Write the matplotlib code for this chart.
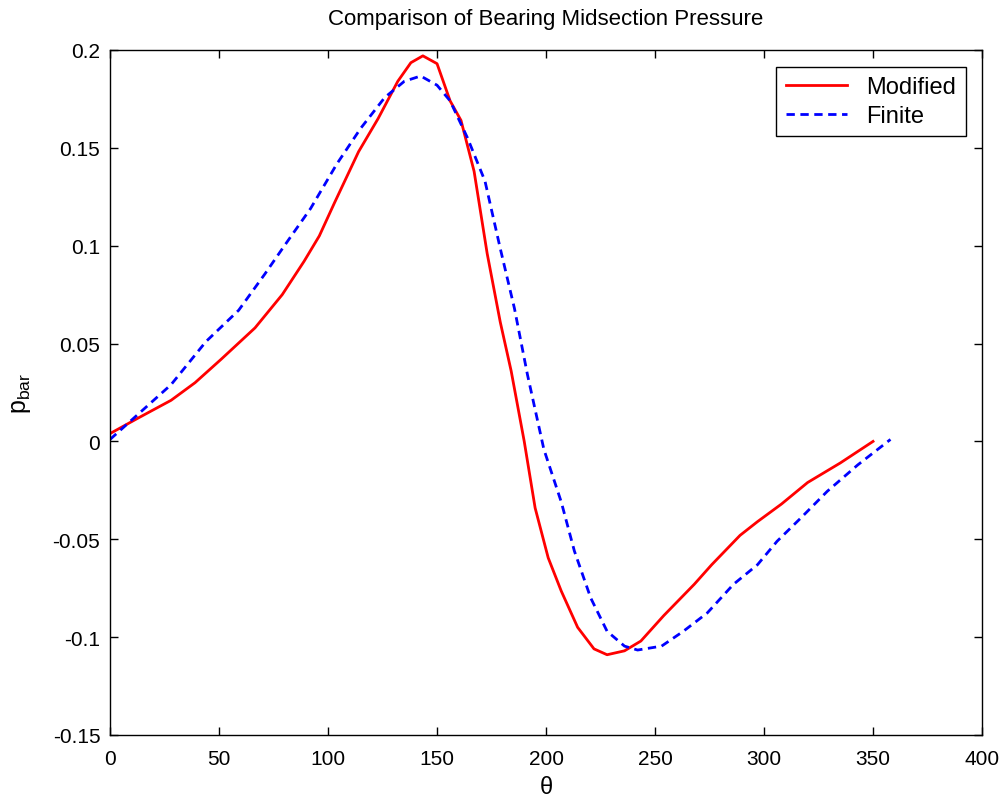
import matplotlib
matplotlib.use('Agg')
import matplotlib.pyplot as plt

plt.rcParams['font.family'] = ['Liberation Sans', 'DejaVu Sans']

# Modified solution (red, solid)
theta_mod = [0, 13, 28, 39, 51, 66.5, 79, 89, 96, 103, 114, 123, 132, 138, 143.5,
             150, 156, 161, 167, 173, 179, 184, 190, 195, 201, 207, 214.5, 222,
             228, 236, 243.5, 254, 268, 276, 289, 297, 308, 320, 335, 350]
p_mod = [0.004, 0.012, 0.021, 0.030, 0.042, 0.058, 0.075, 0.092, 0.105, 0.122,
         0.148, 0.165, 0.184, 0.1935, 0.197, 0.193, 0.174, 0.164, 0.138, 0.096,
         0.061, 0.036, 0.000, -0.034, -0.0595, -0.0765, -0.095, -0.106, -0.109,
         -0.107, -0.102, -0.089, -0.073, -0.063, -0.048, -0.041, -0.032, -0.021,
         -0.011, 0.000]

# Finite solution (blue, dashed)
theta_fin = [0, 13, 28, 44, 59, 71, 80, 92, 104, 115, 126, 135, 142.5, 150, 156,
             164, 172, 179, 185.5, 191.5, 199, 207, 213, 220.5, 228, 236, 242,
             253, 263, 274, 286, 297, 306, 317, 329, 343, 358]
p_fin = [0.001, 0.014, 0.029, 0.051, 0.067, 0.0855, 0.100, 0.119, 0.1417, 0.160,
         0.1757, 0.184, 0.1867, 0.182, 0.174, 0.155, 0.133, 0.0986, 0.068, 0.034,
         -0.004, -0.031, -0.056, -0.080, -0.097, -0.1046, -0.1066, -0.1046,
         -0.097, -0.0876, -0.073, -0.063, -0.051, -0.039, -0.0255, -0.012, 0.001]

xticks = [0, 50, 100, 150, 200, 250, 300, 350, 400]
yticks = [-0.15, -0.1, -0.05, 0, 0.05, 0.1, 0.15, 0.2]
ytick_labels = ['-0.15', '-0.1', '-0.05', '0', '0.05', '0.1', '0.15', '0.2']

fig = plt.figure(figsize=(10.03, 8.04), dpi=100)
ax = fig.add_axes([0.1097, 0.0846, 0.8694, 0.852])

ax.plot(theta_mod, p_mod, color='red', lw=2, label='Modified')
ax.plot(theta_fin, p_fin, color='blue', lw=2, linestyle=(0, (3, 2)), label='Finite')

ax.set_xlim(0, 400)
ax.set_ylim(-0.15, 0.2)
ax.set_xticks(xticks)
ax.set_yticks(yticks)
ax.set_yticklabels(ytick_labels)
ax.tick_params(direction='in', top=True, right=True, length=6, width=1, labelsize=15)
ax.tick_params(axis='x', pad=10)
ax.tick_params(axis='y', pad=7)
for s in ax.spines.values():
    s.set_linewidth(1)

ax.set_title('Comparison of Bearing Midsection Pressure', fontsize=16, pad=19)
ax.set_xlabel('θ', fontsize=17, labelpad=6)
ax.set_ylabel(r'$\mathregular{p_{bar}}$', fontsize=18, labelpad=14)

leg = ax.legend(loc='upper right', fontsize=17, fancybox=False, framealpha=1,
                edgecolor='black', borderaxespad=0.7, handlelength=2.6,
                borderpad=0.4, labelspacing=0.3)
leg.get_frame().set_linewidth(1)

fig.savefig('out.png', dpi=100)
